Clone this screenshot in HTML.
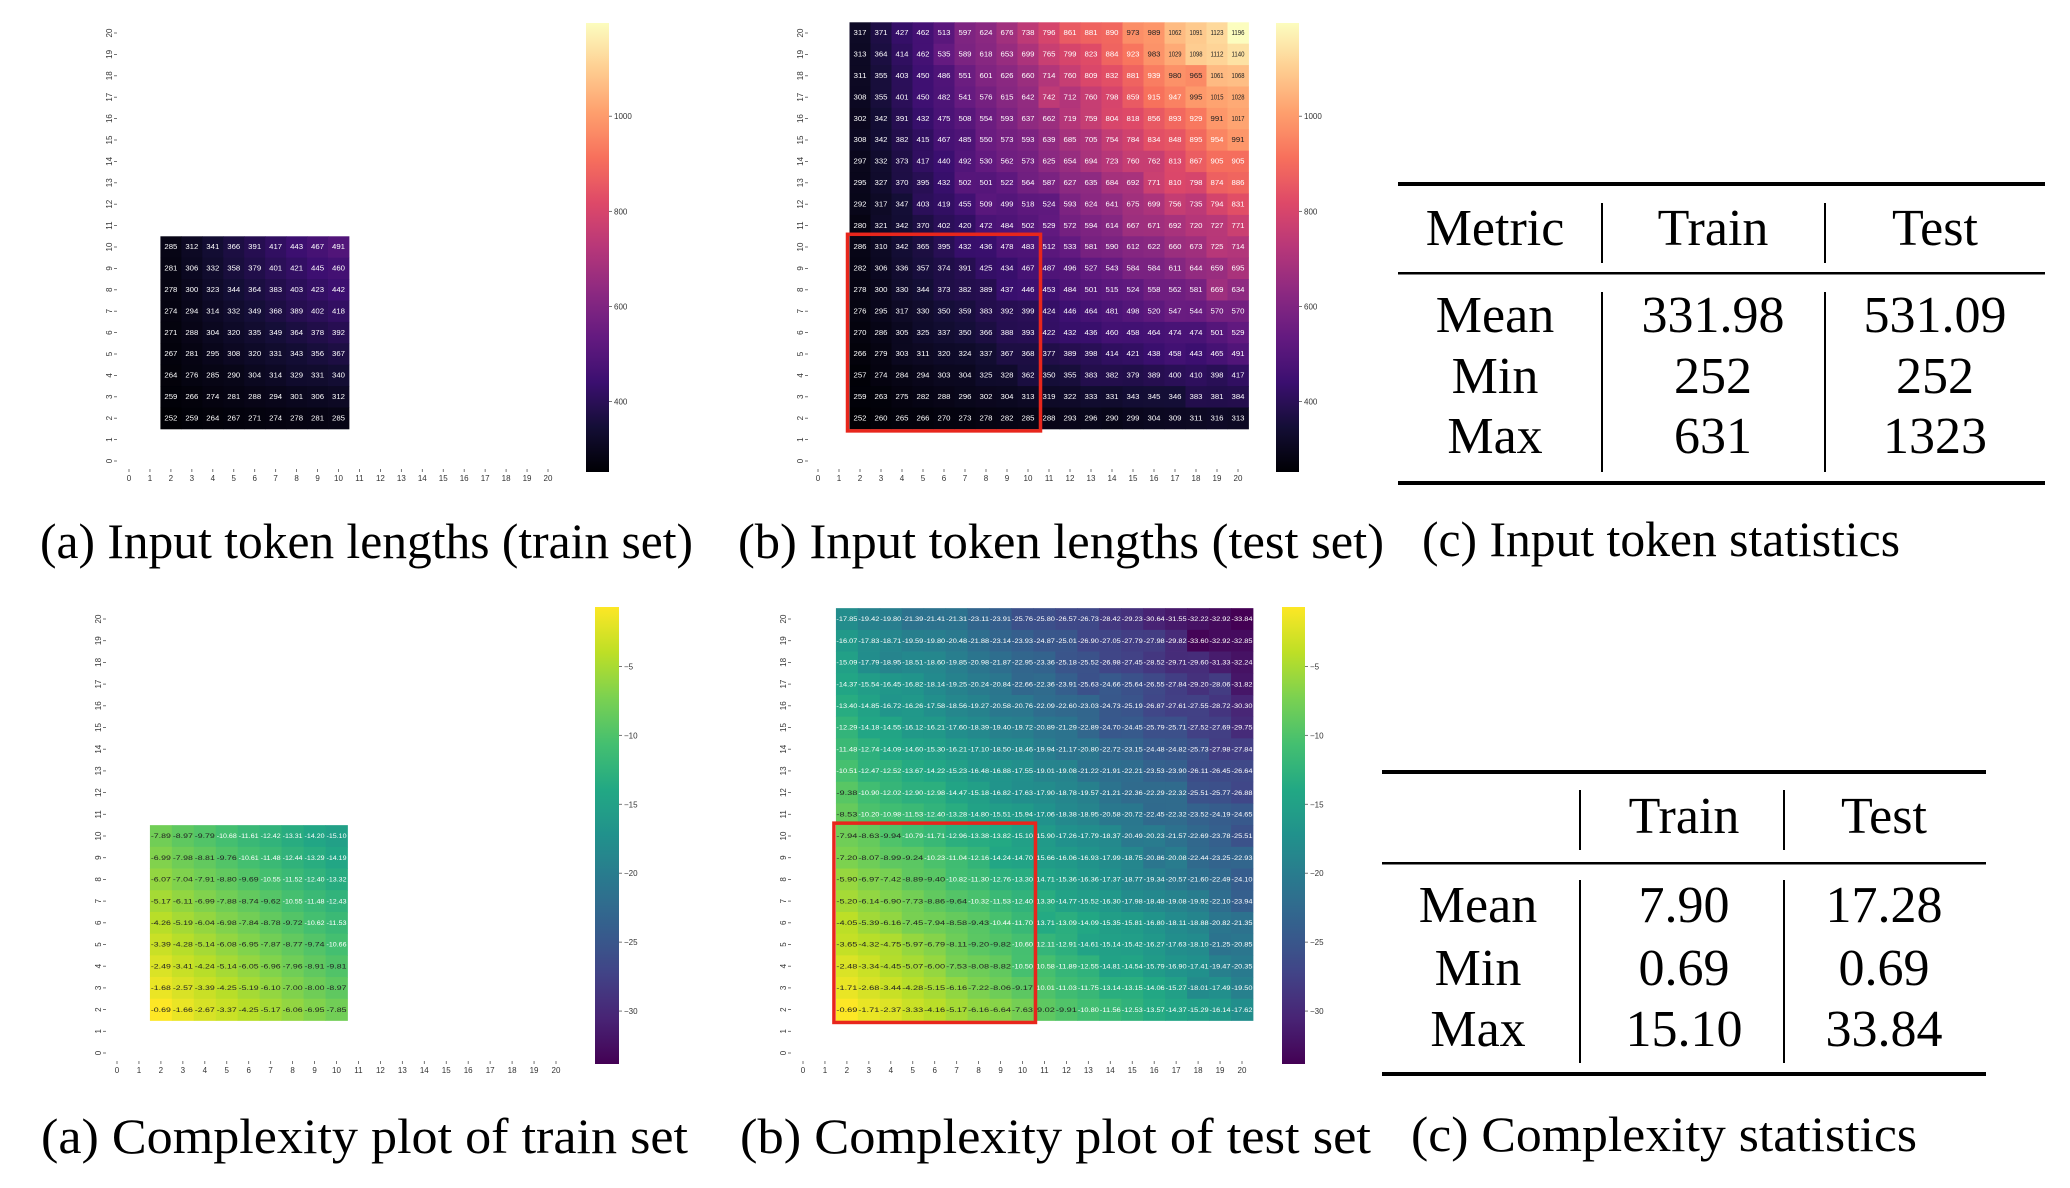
<!DOCTYPE html>
<html><head><meta charset="utf-8"><style>
html,body{margin:0;padding:0;background:#fff;}
svg{display:block;}
.cap{font-family:"Liberation Serif",serif;font-size:50px;fill:#000;}
.tb{font-family:"Liberation Serif",serif;font-size:52px;fill:#000;}
.tk{font-family:"Liberation Sans",sans-serif;font-size:8px;fill:#333;}
</style></head><body>
<svg id="fig" width="2070" height="1188" viewBox="0 0 2070 1188" xmlns="http://www.w3.org/2000/svg">
<g id="plots"></g>
<text class="cap" x="40" y="558" textLength="653" lengthAdjust="spacingAndGlyphs">(a) Input token lengths (train set)</text>
<text class="cap" x="738" y="558" textLength="646" lengthAdjust="spacingAndGlyphs">(b) Input token lengths (test set)</text>
<text class="cap" x="1422" y="556" textLength="478" lengthAdjust="spacingAndGlyphs">(c) Input token statistics</text>
<text class="cap" x="41" y="1153" textLength="647" lengthAdjust="spacingAndGlyphs">(a) Complexity plot of train set</text>
<text class="cap" x="740" y="1153" textLength="631" lengthAdjust="spacingAndGlyphs">(b) Complexity plot of test set</text>
<text class="cap" x="1411" y="1151" textLength="506" lengthAdjust="spacingAndGlyphs">(c) Complexity statistics</text>

<g>
<rect x="1398" y="182" width="647" height="4" fill="#000"/>
<rect x="1398" y="272" width="647" height="2.5" fill="#000"/>
<rect x="1398" y="481" width="647" height="4" fill="#000"/>
<rect x="1601" y="203" width="2" height="60" fill="#000"/><rect x="1824" y="203" width="2" height="60" fill="#000"/>
<rect x="1601" y="292" width="2" height="180" fill="#000"/><rect x="1824" y="292" width="2" height="180" fill="#000"/>
<g class="tb" text-anchor="middle">
<text x="1495" y="245">Metric</text><text x="1713" y="245">Train</text><text x="1935" y="245">Test</text>
<text x="1495" y="332">Mean</text><text x="1713" y="332">331.98</text><text x="1935" y="332">531.09</text>
<text x="1495" y="393">Min</text><text x="1713" y="393">252</text><text x="1935" y="393">252</text>
<text x="1495" y="453">Max</text><text x="1713" y="453">631</text><text x="1935" y="453">1323</text>
</g></g>

<g>
<rect x="1382" y="770" width="604" height="4" fill="#000"/>
<rect x="1382" y="862" width="604" height="2.5" fill="#000"/>
<rect x="1382" y="1072" width="604" height="4" fill="#000"/>
<rect x="1579" y="790" width="2" height="60" fill="#000"/><rect x="1783" y="790" width="2" height="60" fill="#000"/>
<rect x="1579" y="880" width="2" height="183" fill="#000"/><rect x="1783" y="880" width="2" height="183" fill="#000"/>
<g class="tb" text-anchor="middle">
<text x="1684" y="833">Train</text><text x="1884" y="833">Test</text>
<text x="1478" y="922">Mean</text><text x="1684" y="922">7.90</text><text x="1884" y="922">17.28</text>
<text x="1478" y="985">Min</text><text x="1684" y="985">0.69</text><text x="1884" y="985">0.69</text>
<text x="1478" y="1046">Max</text><text x="1684" y="1046">15.10</text><text x="1884" y="1046">33.84</text>
</g></g>
</svg>
<script>
// ---- data ----
const trainTokenRows = [10,9,8,7,6,5,4,3,2];
const trainTokenCols = [2,3,4,5,6,7,8,9,10];
const trainTokens = [
[285,312,341,366,391,417,443,467,491],
[281,306,332,358,379,401,421,445,460],
[278,300,323,344,364,383,403,423,442],
[274,294,314,332,349,368,389,402,418],
[271,288,304,320,335,349,364,378,392],
[267,281,295,308,320,331,343,356,367],
[264,276,285,290,304,314,329,331,340],
[259,266,274,281,288,294,301,306,312],
[252,259,264,267,271,274,278,281,285]];
const testRows = [20,19,18,17,16,15,14,13,12,11,10,9,8,7,6,5,4,3,2];
const testCols = [2,3,4,5,6,7,8,9,10,11,12,13,14,15,16,17,18,19,20];
const testTokens = [
[317,371,427,462,513,597,624,676,738,796,861,881,890,973,989,1062,1091,1123,1196],
[313,364,414,462,535,589,618,653,699,765,799,823,884,923,983,1029,1098,1112,1140],
[311,355,403,450,486,551,601,626,660,714,760,809,832,881,939,980,965,1061,1068],
[308,355,401,450,482,541,576,615,642,742,712,760,798,859,915,947,995,1015,1028],
[302,342,391,432,475,508,554,593,637,662,719,759,804,818,856,893,929,991,1017],
[308,342,382,415,467,485,550,573,593,639,685,705,754,784,834,848,895,954,991],
[297,332,373,417,440,492,530,562,573,625,654,694,723,760,762,813,867,905,905],
[295,327,370,395,432,502,501,522,564,587,627,635,684,692,771,810,798,874,886],
[292,317,347,403,419,455,509,499,518,524,593,624,641,675,699,756,735,794,831],
[280,321,342,370,402,420,472,484,502,529,572,594,614,667,671,692,720,727,771],
[286,310,342,365,395,432,436,478,483,512,533,581,590,612,622,660,673,725,714],
[282,306,336,357,374,391,425,434,467,487,496,527,543,584,584,611,644,659,695],
[278,300,330,344,373,382,389,437,446,453,484,501,515,524,558,562,581,669,634],
[276,295,317,330,350,359,383,392,399,424,446,464,481,498,520,547,544,570,570],
[270,286,305,325,337,350,366,388,393,422,432,436,460,458,464,474,474,501,529],
[266,279,303,311,320,324,337,367,368,377,389,398,414,421,438,458,443,465,491],
[257,274,284,294,303,304,325,328,362,350,355,383,382,379,389,400,410,398,417],
[259,263,275,282,288,296,302,304,313,319,322,333,331,343,345,346,383,381,384],
[252,260,265,266,270,273,278,282,285,288,293,296,290,299,304,309,311,316,313]];
const trainComplexity = [
[-7.89,-8.97,-9.79,-10.68,-11.61,-12.42,-13.31,-14.20,-15.10],
[-6.99,-7.98,-8.81,-9.76,-10.61,-11.48,-12.44,-13.29,-14.19],
[-6.07,-7.04,-7.91,-8.80,-9.69,-10.55,-11.52,-12.40,-13.32],
[-5.17,-6.11,-6.99,-7.88,-8.74,-9.62,-10.55,-11.48,-12.43],
[-4.26,-5.19,-6.04,-6.98,-7.84,-8.78,-9.72,-10.62,-11.53],
[-3.39,-4.28,-5.14,-6.08,-6.95,-7.87,-8.77,-9.74,-10.66],
[-2.49,-3.41,-4.24,-5.14,-6.05,-6.96,-7.96,-8.91,-9.81],
[-1.68,-2.57,-3.39,-4.25,-5.19,-6.10,-7.00,-8.00,-8.97],
[-0.69,-1.66,-2.67,-3.37,-4.25,-5.17,-6.06,-6.95,-7.85]];
const testComplexity = [
[-17.85,-19.42,-19.80,-21.39,-21.41,-21.31,-23.11,-23.91,-25.76,-25.80,-26.57,-26.73,-28.42,-29.23,-30.64,-31.55,-32.22,-32.92,-33.84],
[-16.07,-17.83,-18.71,-19.59,-19.80,-20.48,-21.88,-23.14,-23.93,-24.87,-25.01,-26.90,-27.05,-27.79,-27.98,-29.82,-33.60,-32.92,-32.85],
[-15.09,-17.79,-18.95,-18.51,-18.60,-19.85,-20.98,-21.87,-22.95,-23.36,-25.18,-25.52,-26.98,-27.45,-28.52,-29.71,-29.60,-31.33,-32.24],
[-14.37,-15.54,-16.45,-16.82,-18.14,-19.25,-20.24,-20.84,-22.66,-22.36,-23.91,-25.63,-24.66,-25.64,-26.55,-27.84,-29.20,-28.06,-31.82],
[-13.40,-14.85,-16.72,-16.26,-17.58,-18.56,-19.27,-20.58,-20.76,-22.09,-22.60,-23.03,-24.73,-25.19,-26.87,-27.61,-27.55,-28.72,-30.30],
[-12.29,-14.18,-14.55,-16.12,-16.21,-17.60,-18.39,-19.40,-19.72,-20.89,-21.29,-22.89,-24.70,-24.45,-25.79,-25.71,-27.52,-27.69,-29.75],
[-11.48,-12.74,-14.09,-14.60,-15.30,-16.21,-17.10,-18.50,-18.46,-19.94,-21.17,-20.80,-22.72,-23.15,-24.48,-24.82,-25.73,-27.98,-27.84],
[-10.51,-12.47,-12.52,-13.67,-14.22,-15.23,-16.48,-16.88,-17.55,-19.01,-19.08,-21.22,-21.91,-22.21,-23.53,-23.90,-26.11,-26.45,-26.64],
[-9.38,-10.90,-12.02,-12.90,-12.98,-14.47,-15.18,-16.82,-17.63,-17.90,-18.78,-19.57,-21.21,-22.36,-22.29,-22.32,-25.51,-25.77,-26.88],
[-8.53,-10.20,-10.98,-11.53,-12.40,-13.28,-14.80,-15.51,-15.94,-17.06,-18.38,-18.95,-20.58,-20.72,-22.45,-22.32,-23.52,-24.19,-24.65],
[-7.94,-8.63,-9.94,-10.79,-11.71,-12.96,-13.38,-13.82,-15.10,-15.90,-17.26,-17.79,-18.37,-20.49,-20.23,-21.57,-22.69,-23.78,-25.51],
[-7.20,-8.07,-8.99,-9.24,-10.23,-11.04,-12.16,-14.24,-14.70,-15.66,-16.06,-16.93,-17.99,-18.75,-20.86,-20.08,-22.44,-23.25,-22.93],
[-5.90,-6.97,-7.42,-8.89,-9.40,-10.82,-11.30,-12.76,-13.30,-14.71,-15.36,-16.36,-17.37,-18.77,-19.34,-20.57,-21.60,-22.49,-24.10],
[-5.20,-6.14,-6.90,-7.73,-8.86,-9.64,-10.32,-11.53,-12.40,-13.30,-14.77,-15.52,-16.30,-17.98,-18.48,-19.08,-19.92,-22.10,-23.94],
[-4.05,-5.39,-6.16,-7.45,-7.94,-8.58,-9.43,-10.44,-11.70,-13.71,-13.09,-14.09,-15.35,-15.81,-16.80,-18.11,-18.88,-20.82,-21.35],
[-3.65,-4.32,-4.75,-5.97,-6.79,-8.11,-9.20,-9.82,-10.60,-12.11,-12.91,-14.61,-15.14,-15.42,-16.27,-17.63,-18.10,-21.25,-20.85],
[-2.48,-3.34,-4.45,-5.07,-6.00,-7.53,-8.08,-8.82,-10.50,-10.58,-11.89,-12.55,-14.81,-14.54,-15.79,-16.90,-17.41,-19.47,-20.35],
[-1.71,-2.68,-3.44,-4.28,-5.15,-6.16,-7.22,-8.06,-9.17,-10.01,-11.03,-11.75,-13.14,-13.15,-14.06,-15.27,-18.01,-17.49,-19.50],
[-0.69,-1.71,-2.37,-3.33,-4.16,-5.17,-6.16,-6.64,-7.63,-9.02,-9.91,-10.80,-11.56,-12.53,-13.57,-14.37,-15.29,-16.14,-17.62]];
const tokenRange = [252, 1196];
const complexityRange = [-33.84, -0.69];
const tokenTicks = [400, 600, 800, 1000];
const complexityTicks = [-5, -10, -15, -20, -25, -30];
const axisTicks = [0,1,2,3,4,5,6,7,8,9,10,11,12,13,14,15,16,17,18,19,20];

// ---- colormaps ----
const MAGMA=['#000004','#140e36','#3b0f70','#641a80','#8c2981','#b73779','#de4968','#f7705c','#fe9f6d','#fecf92','#fcfdbf'];
const VIRIDIS=['#440154','#482475','#414487','#355f8d','#2a788e','#21918c','#22a884','#44bf70','#7ad151','#bddf26','#fde725'];
function hx(c){return [1,3,5].map(i=>parseInt(c.substr(i,2),16));}
function cmap(st,t){t=Math.max(0,Math.min(1,t));const p=t*(st.length-1),i=Math.min(st.length-2,Math.floor(p)),f=p-i;const a=hx(st[i]),b=hx(st[i+1]);return 'rgb('+a.map((v,k)=>Math.round(v+(b[k]-v)*f)).join(',')+')';}

const NS='http://www.w3.org/2000/svg';
const root=document.getElementById('plots');
function mk(tag,at,parent){const e=document.createElementNS(NS,tag);for(const k in at)e.setAttribute(k,at[k]);(parent||root).appendChild(e);return e;}

function panel(cfg){
  const g=mk('g',{});
  
  
  const X=v=>cfg.x0+v*cfg.dx, Y=v=>cfg.y20+(20-v)*cfg.dy;
  const [lo,hi]=cfg.range;
  // cells
  cfg.rows.forEach((r,ri)=>cfg.cols.forEach((c,ci)=>{
    const v=cfg.values[ri][ci];
    const t=(v-lo)/(hi-lo);
    const rect=mk('rect',{x:X(c-0.5),y:Y(r+0.5),width:cfg.dx+0.4,height:cfg.dy+0.4,fill:cmap(cfg.cmap,t)},g);
    
    
    const light = cfg.cmap===MAGMA ? t>0.75 : t>0.72;
    const tx=mk('text',{x:X(c),y:Y(r)+2.2,'text-anchor':'middle','font-family':'Liberation Sans, sans-serif','font-size':cfg.fs,fill:light?'#222':'#fff',textLength:cfg.tl,lengthAdjust:'spacingAndGlyphs'},g);
    tx.textContent=cfg.fmt(v);
  }));
  // ticks
  axisTicks.forEach(v=>{
    mk('line',{x1:X(v),x2:X(v),y1:cfg.xlabY-12,y2:cfg.xlabY-9,stroke:'#555','stroke-width':0.8},g);
    const t=mk('text',{x:X(v),y:cfg.xlabY,'text-anchor':'middle',class:'tk'},g); t.textContent=v;
    mk('line',{x1:cfg.ylabX+5,x2:cfg.ylabX+8,y1:Y(v),y2:Y(v),stroke:'#555','stroke-width':0.8},g);
    const u=mk('text',{x:cfg.ylabX,y:Y(v)+3,'text-anchor':'middle',class:'tk',transform:'rotate(-90 '+cfg.ylabX+' '+Y(v)+')'},g); u.textContent=v;
  });
  if(cfg.box){const b=mk('rect',{x:X(1.5)-2,y:Y(10.5)-2,width:9*cfg.dx+4,height:9*cfg.dy+4,fill:'none',stroke:'#e8261c','stroke-width':3.5},g);
    
    }
  // colorbar
  const cb=cfg.cb, defsId=cfg.name+'-grad';
  const defs=mk('defs',{},g);const lg=mk('linearGradient',{id:defsId,x1:0,y1:1,x2:0,y2:0},defs);
  for(let i=0;i<=20;i++){mk('stop',{offset:i/20,'stop-color':cmap(cfg.cmap,i/20)},lg);}
  const bar=mk('rect',{x:cb[0],y:cb[1],width:cb[2],height:cb[3],fill:'url(#'+defsId+')'},g);
  
  
  cfg.ticks.forEach(v=>{const y=cb[1]+cb[3]*(1-(v-lo)/(hi-lo));
    mk('line',{x1:cb[0]+cb[2],x2:cb[0]+cb[2]+3,y1:y,y2:y,stroke:'#555','stroke-width':0.8},g);
    const t=mk('text',{x:cb[0]+cb[2]+5,y:y+3,class:'tk'},g); t.textContent=v<0?'\u2212'+(-v):v;});
}
const tokFmt=v=>String(v), cxFmt=v=>v.toFixed(2);
panel({name:'heatmap-input-train',rows:trainTokenRows,cols:trainTokenCols,values:trainTokens,range:tokenRange,cmap:MAGMA,x0:129,dx:20.95,y20:33,dy:21.4,ylabX:109,xlabY:481,fs:7,tl:13,fmt:tokFmt,ticks:tokenTicks,cb:[586,23,23,449]});
panel({name:'heatmap-input-test',rows:testRows,cols:testCols,values:testTokens,range:tokenRange,cmap:MAGMA,x0:818,dx:21,y20:33,dy:21.4,ylabX:800,xlabY:481,fs:7,tl:13,fmt:tokFmt,ticks:tokenTicks,cb:[1276,23,23,449],box:true});
panel({name:'heatmap-complexity-train',rows:trainTokenRows,cols:trainTokenCols,values:trainComplexity,range:complexityRange,cmap:VIRIDIS,x0:117,dx:21.95,y20:619,dy:21.7,ylabX:98,xlabY:1073,fs:6.5,tl:20,fmt:cxFmt,ticks:complexityTicks,cb:[595,607,24,457]});
panel({name:'heatmap-complexity-test',rows:testRows,cols:testCols,values:testComplexity,range:complexityRange,cmap:VIRIDIS,x0:803,dx:21.95,y20:619,dy:21.7,ylabX:783,xlabY:1073,fs:6.5,tl:21,fmt:cxFmt,ticks:complexityTicks,cb:[1282,607,23,457],box:true});
</script>
</body></html>
